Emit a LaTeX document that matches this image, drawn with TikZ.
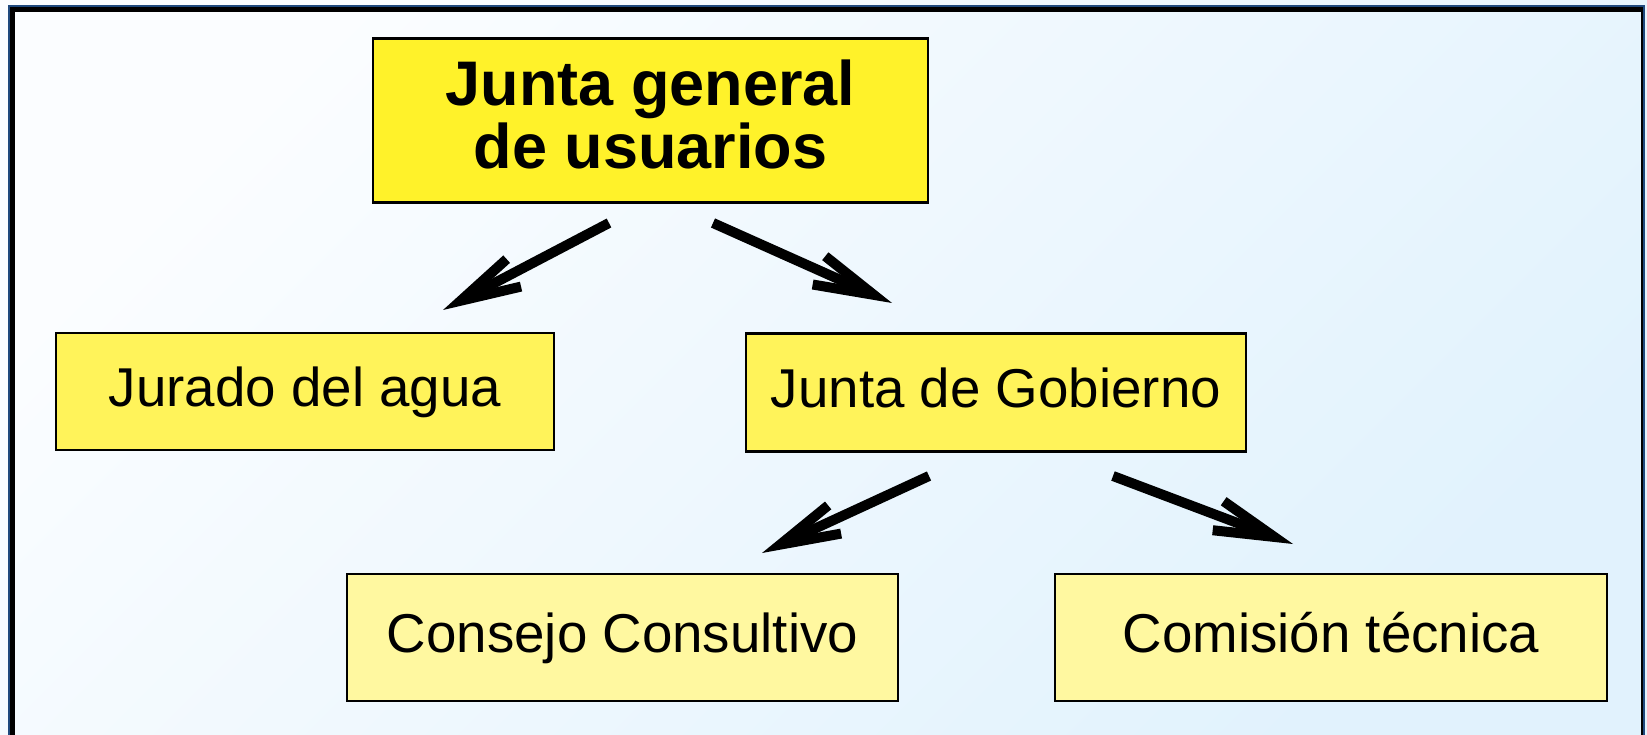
\documentclass[tikz,border=0pt]{standalone}
\usepackage{fontspec}
\setmainfont{Liberation Sans}
\usetikzlibrary{arrows.meta}
\definecolor{fondoA}{RGB}{251,253,255}
\definecolor{fondoB}{RGB}{225,242,253}
\definecolor{marco}{RGB}{31,73,125}
\definecolor{amarillo1}{RGB}{255,242,42}
\definecolor{amarillo2}{RGB}{255,243,90}
\definecolor{amarillo3}{RGB}{255,248,160}
\begin{document}
\begin{tikzpicture}[x=1pt,y=-1pt,
	caja/.style={draw, line width=2.5pt, inner sep=0pt, text height=42pt, text depth=12pt, font=\fontsize{54.7}{60}\selectfont},
	flecha/.style={line width=10pt, -{Straight Barb[length=60pt,width=31pt,sharp]}}]
	\useasboundingbox (0,0) rectangle (1647,735);
	\shade[top color=fondoA, bottom color=fondoB, shading angle=45] (0,0) rectangle (1647,735);
	% marco
	\draw[marco, line width=2pt] (9,6) rectangle (1644,750);
	\draw[line width=5.5pt] (10,9.6) -- (1643,9.6);
	\draw[line width=5pt] (12.5,9.6) -- (12.5,750);
	\draw[line width=2pt] (1642,12) -- (1642,750);
	% cajas
	\node (J)  at (650.5, 120.3)	[caja, fill=amarillo1, minimum width=555pt, minimum height=164pt, align=center, text height=, text depth=12pt, font=\bfseries\fontsize{63}{63.3}\selectfont]	{Junta general\\de usuarios};
	\node (JA) at (305, 391.7)	[caja, fill=amarillo2, minimum width=498pt, minimum height=117pt]	{Jurado del agua};
	\node (JG) at (996, 392.5)	[caja, fill=amarillo2, minimum width=500pt, minimum height=118pt]	{Junta de Gobierno};
	\node (CC) at (622.5, 637.5)	[caja, fill=amarillo3, minimum width=551pt, minimum height=127pt]	{Consejo Consultivo};
	\node (CT) at (1331, 637.5)	[caja, fill=amarillo3, minimum width=552pt, minimum height=127pt]	{Comisión técnica};
	% extremos de las flechas
	\coordinate (J1) at (609, 223);
	\coordinate (J2) at (713, 223);
	\coordinate (JA1) at (443, 310);
	\coordinate (JG1) at (892, 303);
	\coordinate (JG2) at (929, 476);
	\coordinate (JG3) at (1113, 476);
	\coordinate (CC1) at (762, 553);
	\coordinate (CT1) at (1293, 544);
	\draw[flecha] (J1) -- (JA1);
	\draw[flecha] (J2) -- (JG1);
	\draw[flecha] (JG2) -- (CC1);
	\draw[flecha] (JG3) -- (CT1);
\end{tikzpicture}
\end{document}
